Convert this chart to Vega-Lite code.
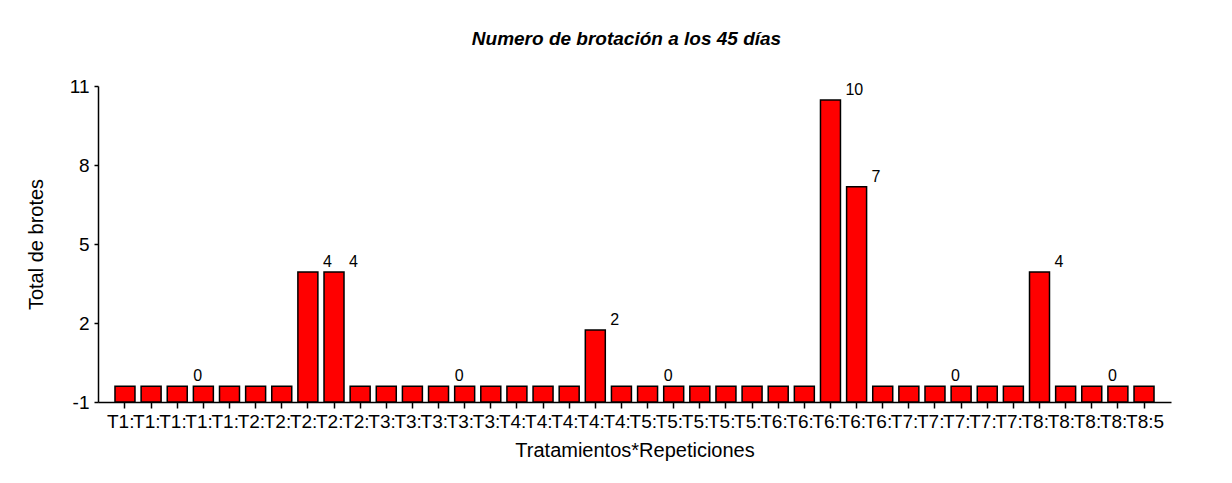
{
  "$schema": "https://vega.github.io/schema/vega-lite/v6.json",
  "width": 1073,
  "height": 316,
  "autosize": "none",
  "padding": {"left": 98, "top": 86, "right": 61, "bottom": 81},
  "background": "white",
  "config": {
    "font": "Liberation Sans",
    "view": {"stroke": null},
    "axis": {"grid": false, "domainColor": "black", "tickColor": "black", "labelColor": "black", "titleColor": "black", "domainWidth": 1.5, "tickWidth": 1.5, "labelFont": "Liberation Sans", "titleFont": "Liberation Sans", "titleFontWeight": "normal"}
  },
  "title": {
    "text": "Numero de brotación a los 45 días",
    "font": "Liberation Sans",
    "fontSize": 19,
    "fontWeight": "bold",
    "fontStyle": "italic",
    "color": "black",
    "anchor": "middle",
    "dx": -8,
    "offset": 28
  },
  "data": {
    "values": [
      {"tr": "T1:1", "v": -0.40, "lab": null},
      {"tr": "T1:2", "v": -0.40, "lab": null},
      {"tr": "T1:3", "v": -0.40, "lab": null},
      {"tr": "T1:4", "v": -0.40, "lab": "0"},
      {"tr": "T1:5", "v": -0.40, "lab": null},
      {"tr": "T2:1", "v": -0.40, "lab": null},
      {"tr": "T2:2", "v": -0.40, "lab": null},
      {"tr": "T2:3", "v": 3.94, "lab": "4"},
      {"tr": "T2:4", "v": 3.94, "lab": "4"},
      {"tr": "T2:5", "v": -0.40, "lab": null},
      {"tr": "T3:1", "v": -0.40, "lab": null},
      {"tr": "T3:2", "v": -0.40, "lab": null},
      {"tr": "T3:3", "v": -0.40, "lab": null},
      {"tr": "T3:4", "v": -0.40, "lab": "0"},
      {"tr": "T3:5", "v": -0.40, "lab": null},
      {"tr": "T4:1", "v": -0.40, "lab": null},
      {"tr": "T4:2", "v": -0.40, "lab": null},
      {"tr": "T4:3", "v": -0.40, "lab": null},
      {"tr": "T4:4", "v": 1.73, "lab": "2"},
      {"tr": "T4:5", "v": -0.40, "lab": null},
      {"tr": "T5:1", "v": -0.40, "lab": null},
      {"tr": "T5:2", "v": -0.40, "lab": "0"},
      {"tr": "T5:3", "v": -0.40, "lab": null},
      {"tr": "T5:4", "v": -0.40, "lab": null},
      {"tr": "T5:5", "v": -0.40, "lab": null},
      {"tr": "T6:1", "v": -0.40, "lab": null},
      {"tr": "T6:2", "v": -0.40, "lab": null},
      {"tr": "T6:3", "v": 10.47, "lab": "10"},
      {"tr": "T6:4", "v": 7.17, "lab": "7"},
      {"tr": "T6:5", "v": -0.40, "lab": null},
      {"tr": "T7:1", "v": -0.40, "lab": null},
      {"tr": "T7:2", "v": -0.40, "lab": null},
      {"tr": "T7:3", "v": -0.40, "lab": "0"},
      {"tr": "T7:4", "v": -0.40, "lab": null},
      {"tr": "T7:5", "v": -0.40, "lab": null},
      {"tr": "T8:1", "v": 3.94, "lab": "4"},
      {"tr": "T8:2", "v": -0.40, "lab": null},
      {"tr": "T8:3", "v": -0.40, "lab": null},
      {"tr": "T8:4", "v": -0.40, "lab": "0"},
      {"tr": "T8:5", "v": -0.40, "lab": null}
    ]
  },
  "encoding": {
    "x": {
      "field": "tr",
      "type": "nominal",
      "sort": null,
      "scale": {"paddingInner": 0.235, "paddingOuter": 0.65},
      "axis": {
        "title": "Tratamientos*Repeticiones",
        "titleFontSize": 20,
        "titlePadding": 9,
        "labelAngle": 0,
        "labelFontSize": 19,
        "labelAlign": "left",
        "labelOffset": -18,
        "labelPadding": 4,
        "tickSize": 6,
        "labelExpr": "datum.label == 'T8:5' ? datum.label : slice(datum.label, 0, 3)"
      }
    },
    "y": {
      "field": "v",
      "type": "quantitative",
      "scale": {"domain": [-1, 11], "nice": false, "zero": false},
      "axis": {
        "title": "Total de brotes",
        "titleFontSize": 20,
        "titlePadding": 23,
        "labelFontSize": 19,
        "values": [-1, 2, 5, 8, 11],
        "labelExpr": "toString(datum.value)",
        "tickSize": 4,
        "labelPadding": 5
      }
    }
  },
  "layer": [
    {
      "mark": {"type": "bar", "fill": "#FF0000", "stroke": "black", "strokeWidth": 1.5},
      "encoding": {"y2": {"datum": -1}}
    },
    {
      "transform": [{"filter": "datum.lab == '0'"}],
      "mark": {"type": "text", "align": "left", "baseline": "alphabetic", "dx": -10, "dy": -5, "fontSize": 16, "color": "black"},
      "encoding": {"text": {"field": "lab"}}
    },
    {
      "transform": [{"filter": "datum.lab != null && datum.lab != '0'"}],
      "mark": {"type": "text", "align": "left", "baseline": "alphabetic", "dx": 15, "dy": -5, "fontSize": 16, "color": "black"},
      "encoding": {"text": {"field": "lab"}}
    }
  ]
}
